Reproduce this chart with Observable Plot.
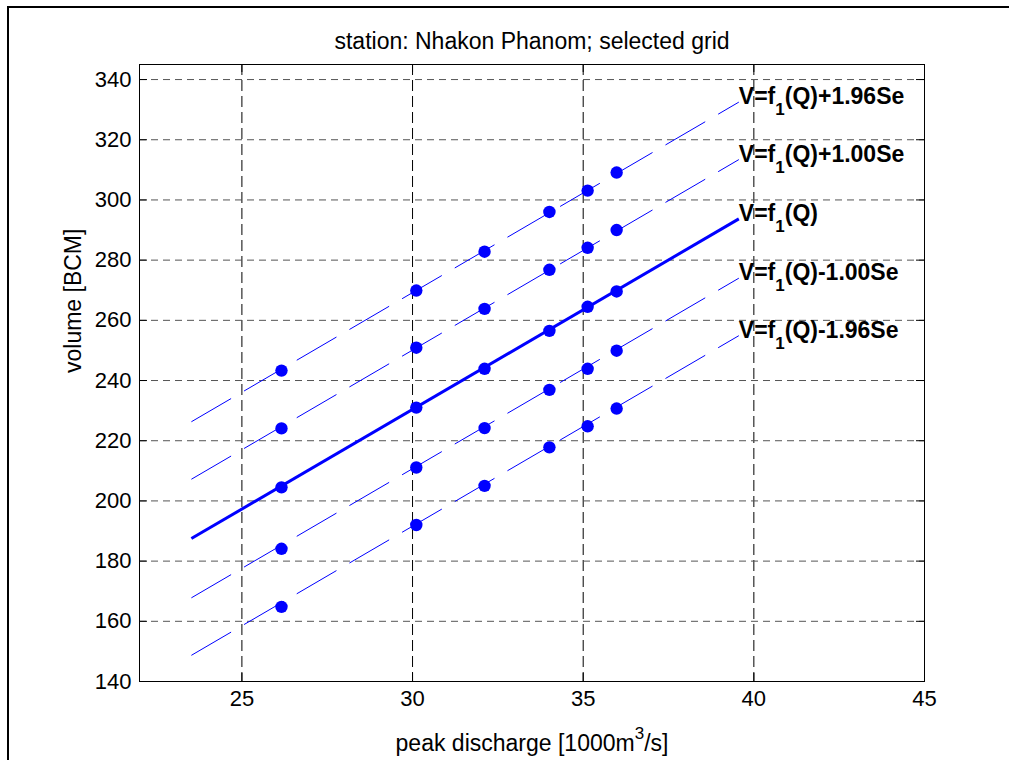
<!DOCTYPE html>
<html><head><meta charset="utf-8">
<script src="https://cdn.jsdelivr.net/npm/d3@7"></script>
<script src="https://cdn.jsdelivr.net/npm/@observablehq/plot@0.6"></script>
<style>
html,body{margin:0;padding:0;background:#fff;overflow:hidden;width:1009px;height:760px}
#chart{position:absolute;left:0;top:0}
#border{position:absolute;left:7px;top:6px;width:1200px;height:1000px;border:2px solid #000;pointer-events:none;z-index:2}
</style></head><body>
<div id="chart"></div><div id="border"></div>
<script>
// ---- data ----
const title = "station: Nhakon Phanom; selected grid";
const xLabel = "peak discharge [1000m^3/s]";
const yLabel = "volume [BCM]";
const xTicks = [25, 30, 35, 40, 45];
const yTicks = [140, 160, 180, 200, 220, 240, 260, 280, 300, 320, 340];
const xGrid = [25, 30, 35, 40];
const yGrid = [160, 180, 200, 220, 240, 260, 280, 300, 320, 340];

const Q = [26.16, 30.11, 32.11, 34.01, 35.13, 35.98];
const vPlus196  = [243.3, 269.9, 282.8, 296.0, 303.1, 309.1];
const vPlus100  = [224.1, 250.9, 263.8, 276.8, 284.1, 290.0];
const vMain     = [204.5, 231.0, 243.9, 256.5, 264.5, 269.6];
const vMinus100 = [184.1, 211.1, 224.2, 236.9, 243.9, 249.9];
const vMinus196 = [164.8, 192.0, 205.0, 217.8, 224.8, 230.7];

const lineQ = [23.52, 39.56];
const linePlus196  = [226.3, 332.5];
const linePlus100  = [207.2, 313.4];
const lineMain     = [187.5, 293.7];
const lineMinus100 = [167.8, 274.0];
const lineMinus196 = [148.7, 254.9];

const labels = ["V=f_1(Q)+1.96Se", "V=f_1(Q)+1.00Se", "V=f_1(Q)", "V=f_1(Q)-1.00Se", "V=f_1(Q)-1.96Se"];

// ---- build tables ----
const seriesV = [vPlus196, vPlus100, vMain, vMinus100, vMinus196];
const seriesL = [linePlus196, linePlus100, lineMain, lineMinus100, lineMinus196];
const pts = [];
seriesV.forEach((vals, s) => vals.forEach((v, i) => pts.push({q: Q[i], v, s})));
const lines = [];
seriesL.forEach((ln, s) => ln.forEach((v, i) => lines.push({q: lineQ[i], v, s})));
const labelRows = seriesL.map((ln, s) => ({q: lineQ[1], v: ln[1], text: labels[s]}));

const W = 1009, H = 760, mL = 139, mR = 85, mT = 64, mB = 79;
const innerW = W - mL - mR, innerH = H - mT - mB;
const blue = "#0000ff";

const plot = Plot.plot({
  width: W, height: H,
  marginLeft: mL, marginRight: mR, marginTop: mT, marginBottom: mB,
  style: {fontFamily: "'Liberation Sans', Arial, sans-serif", background: "none", overflow: "visible", color: "#000"},
  x: {domain: [22, 45]},
  y: {domain: [140, 345]},
  marks: [
    Plot.gridX(xGrid, {stroke: "#000", strokeOpacity: 1, strokeDasharray: "11,5"}),
    Plot.gridY(yGrid, {stroke: "#555", strokeOpacity: 1, strokeDasharray: "7,5"}),
    Plot.tickX(xTicks, {x: d => d, insetTop: innerH - 8, stroke: "#000"}),
    Plot.tickX(xTicks, {x: d => d, insetBottom: innerH - 8, stroke: "#000"}),
    Plot.tickY(yTicks, {y: d => d, insetRight: innerW - 8, stroke: "#000"}),
    Plot.tickY(yTicks, {y: d => d, insetLeft: innerW - 8, stroke: "#000"}),
    Plot.frame({stroke: "#000"}),
    Plot.axisX(xTicks, {tickSize: 0, tickPadding: 9, fontSize: 22, label: null}),
    Plot.axisY(yTicks, {tickSize: 0, tickPadding: 8, fontSize: 22, label: null}),
    Plot.line(lines.filter(d => d.s !== 2), {x: "q", y: "v", z: "s", stroke: blue, strokeWidth: 1, strokeDasharray: "46,15", strokeLinecap: "butt"}),
    Plot.line(lines.filter(d => d.s === 2), {x: "q", y: "v", stroke: blue, strokeWidth: 3, strokeLinecap: "butt"}),
    Plot.dot(pts, {x: "q", y: "v", r: 6.2, fill: blue, stroke: null}),
    Plot.text(labelRows, {x: "q", y: "v", text: "text", textAnchor: "start", lineAnchor: "bottom", dy: 2, fontSize: 23, fontWeight: "bold", fill: "#000"}),
    Plot.text([title], {text: d => d, frameAnchor: "top", lineAnchor: "bottom", dy: -16, fontSize: 23, fill: "#000"}),
    Plot.text([xLabel], {text: d => d, frameAnchor: "bottom", lineAnchor: "bottom", dy: 69, fontSize: 23, fill: "#000"}),
    Plot.text([yLabel], {text: d => d, frameAnchor: "left", rotate: -90, lineAnchor: "bottom", dx: -59, fontSize: 23, fill: "#000"})
  ]
});

// sub/superscripts
function rich(el, m, shift) {
  el.textContent = "";
  const s = d3.select(el);
  s.append("tspan").text(m[1]);
  s.append("tspan").attr("dy", shift).attr("font-size", 17).text(m[2]);
  s.append("tspan").attr("dy", -shift).text(m[3]);
}
d3.select(plot).selectAll("text").each(function() {
  const t = this.textContent;
  let m = t.match(/^(.*?)_(\d)(.*)$/);
  if (m) { rich(this, m, 11); return; }
  m = t.match(/^(.*?)\^(\d)(.*)$/);
  if (m) rich(this, m, -12);
});

document.getElementById("chart").appendChild(plot);
</script>
</body></html>
